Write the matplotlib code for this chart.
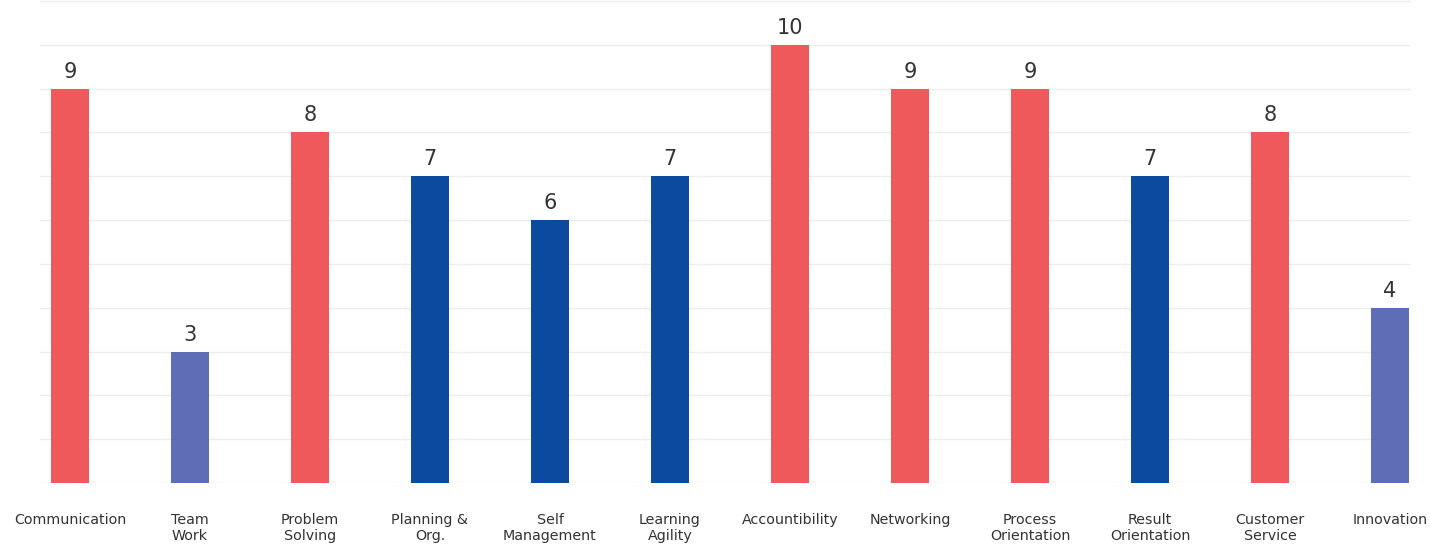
import numpy as np
import matplotlib.pyplot as plt

# competency scores
skills = ["Communication", "Team\nWork", "Problem\nSolving", "Planning &\nOrg.",
          "Self\nManagement", "Learning\nAgility", "Accountibility", "Networking",
          "Process\nOrientation", "Result\nOrientation", "Customer\nService", "Innovation"]
scores = [9, 3, 8, 7, 6, 7, 10, 9, 9, 7, 8, 4]
groups = ["high", "low", "high", "mid", "mid", "mid", "high", "high", "high", "mid", "high", "low"]

palette = {"high": "#EF595C", "mid": "#0B4A9E", "low": "#5E6EB6"}

plt.rcParams["font.family"] = ["DejaVu Sans"]

fig = plt.figure(figsize=(14.3, 5.44), dpi=100)
ax = fig.add_axes([40 / 1430, 61 / 544, 1370 / 1430, 483 / 544])

x = np.arange(len(skills))
cols = [palette[g] for g in groups]
bars = ax.bar(x, scores, width=0.31, color=cols, zorder=2)

# value labels above bars
for xi, v in zip(x, scores):
    ax.annotate(str(v), (xi, v), xytext=(0, 5), textcoords="offset points",
                ha="center", va="bottom", fontsize=15, color="#333333")

ax.set_xlim(-0.25, 11.167)
ax.set_ylim(0, 11.02)
ax.set_yticks(np.arange(0, 12, 1))
ax.yaxis.grid(True, color="#EDEDED", linewidth=1, zorder=0)
ax.tick_params(axis="y", left=False, labelleft=False)
ax.tick_params(axis="x", bottom=False, pad=18)
ax.set_xticks(x)
ax.set_xticklabels(skills, fontsize=10.3, color="#333333", va="top", linespacing=1.15)

for s in ax.spines.values():
    s.set_visible(False)

fig.savefig("out.png", dpi=100)
